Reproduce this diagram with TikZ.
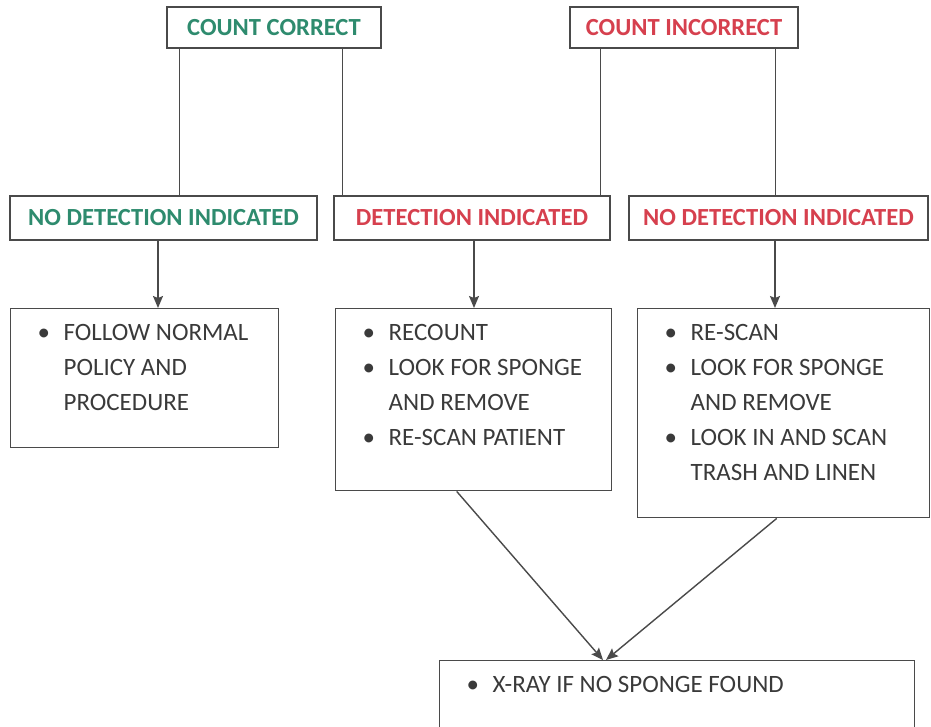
\documentclass[tikz,border=0pt]{standalone}
\usepackage{fontspec}
\setmainfont{Carlito}
\usepackage{xcolor}
\usepackage{tikz}
\usetikzlibrary{
  arrows.meta,
  positioning,
  calc
}
\definecolor{ccGreen}{HTML}{2E8B6E}
\definecolor{ciRed}{HTML}{D6404E}
\definecolor{ccLine}{HTML}{4A4A4A}
\definecolor{ccText}{HTML}{3A3A3A}
\newcommand{\actlist}[3]{%
  \parbox[t][#2][t]{#1}{\begin{tabular}[t]{@{}p{0.52cm}@{}l@{}}#3\end{tabular}}}
\tikzset{
  ccnode/.style={
    draw=ccLine, line width=0.8pt, minimum height=8.2mm, inner sep=0pt,
    font=\bfseries\fontsize{14}{16}\selectfont, align=center
  },
  countbox/.style={ccnode, minimum height=8.2mm},
  detbox/.style={ccnode, minimum height=8.8mm},
  actbox/.style={
    draw=ccLine, line width=0.8pt, anchor=north west,
    inner xsep=0.54cm, inner ysep=0.15cm, text=ccText,
    font=\fontsize{14.2}{19.9}\selectfont
  },
  link/.style={line width=0.8pt, ccLine},
  flow/.style={-{Stealth[length=2.4mm, width=2mm, inset=0.4mm]}, line width=0.8pt, ccLine}
}

\begin{document}
\begin{tikzpicture}
  \clip (0,0) rectangle (18.62,-14.52);
  % counts
  \node[countbox, minimum width=42.8mm, text=ccGreen] (cc) at (5.48,-0.55) {COUNT CORRECT};
  \node[countbox, minimum width=45.6mm, text=ciRed] (ci) at (13.68,-0.55) {COUNT INCORRECT};
  % detection
  \node[detbox, minimum width=61.4mm, text=ccGreen] (nd1) at (3.27,-4.36) {NO DETECTION INDICATED};
  \node[detbox, minimum width=55.2mm, text=ciRed] (det) at (9.44,-4.36) {DETECTION INDICATED};
  \node[detbox, minimum width=59.8mm, text=ciRed] (nd2) at (15.57,-4.36) {NO DETECTION INDICATED};
  % actions
  \node[actbox] (act1) at (0.2,-6.16) {\actlist{4.28cm}{2.48cm}{%
    \textbullet & FOLLOW NORMAL\\ & POLICY AND\\ & PROCEDURE}};
  \node[actbox] (act2) at (6.70,-6.16) {\actlist{4.44cm}{3.34cm}{%
    \textbullet & RECOUNT\\ \textbullet & LOOK FOR SPONGE\\ & AND REMOVE\\ \textbullet & RE-SCAN PATIENT}};
  \node[actbox] (act3) at (12.74,-6.16) {\actlist{4.76cm}{3.88cm}{%
    \textbullet & RE-SCAN\\ \textbullet & LOOK FOR SPONGE\\ & AND REMOVE\\ \textbullet & LOOK IN AND SCAN\\ & TRASH AND LINEN}};
  \node[actbox] (xray) at (8.78,-13.2) {\actlist{8.42cm}{1.7cm}{%
    \textbullet & X-RAY IF NO SPONGE FOUND}};

  \draw[link] ([xshift=0.26cm]cc.south west) -- ([xshift=0.26cm]cc.south west |- nd1.north);
  \draw[link] ([xshift=-0.78cm]cc.south east) -- ([xshift=-0.78cm]cc.south east |- det.north);
  \draw[link] ([xshift=0.62cm]ci.south west) -- ([xshift=0.62cm]ci.south west |- det.north);
  \draw[link] ([xshift=-0.46cm]ci.south east) -- ([xshift=-0.46cm]ci.south east |- nd2.north);

  \draw[flow] ([xshift=-0.11cm]nd1.south) -- ([xshift=-0.11cm]nd1.south |- act1.north);
  \draw[flow] ([xshift=0.04cm]det.south) -- ([xshift=0.04cm]det.south |- act2.north);
  \draw[flow] ([xshift=-0.07cm]nd2.south) -- ([xshift=-0.07cm]nd2.south |- act3.north);

  \draw[flow] ([xshift=-0.34cm]act2.south) -- ([xshift=3.28cm]xray.north west);
  \draw[flow] ([xshift=-0.14cm]act3.south) -- ([xshift=3.34cm]xray.north west);
\end{tikzpicture}
\end{document}
